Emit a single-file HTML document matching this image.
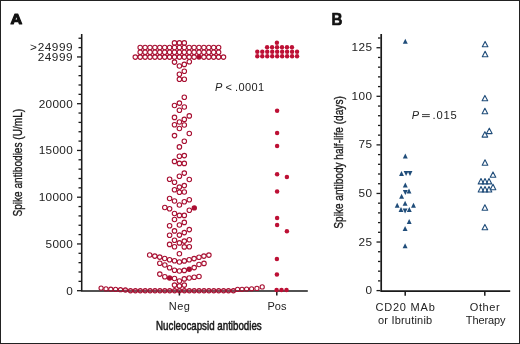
<!DOCTYPE html>
<html><head><meta charset="utf-8"><style>
html,body{margin:0;padding:0;background:#fff;}
#c{position:relative;width:518px;height:342px;border:1px solid #222;overflow:hidden;background:#fff;font-family:"Liberation Sans",sans-serif;color:#222;}
#c svg{position:absolute;left:-1px;top:-1px;will-change:transform;}
.t{position:absolute;white-space:nowrap;line-height:1;}
</style></head><body><div id="c">
<svg width="520" height="344" viewBox="0 0 520 344" font-family="'Liberation Sans', sans-serif">
<text transform="translate(10.6,24.45) scale(1.08,1)" font-size="15" font-weight="bold" fill="#111" stroke="#111" stroke-width="1.1" stroke-linejoin="round">A</text>
<text transform="translate(331.5,25.0) scale(0.92,1)" font-size="16.5" font-weight="bold" fill="#111" stroke="#111" stroke-width="0.7" stroke-linejoin="round">B</text>
<g font-size="11.8" fill="#222" text-anchor="end" letter-spacing="0.35">
<text x="73.2" y="51" letter-spacing="0.55">24999</text><text x="37" y="50.9" letter-spacing="0">&gt;</text>
<text x="73.2" y="60.5" letter-spacing="0.55">24999</text>
<text x="73.2" y="107.7">20000</text>
<text x="73.2" y="154.3">15000</text>
<text x="73.2" y="201">10000</text>
<text x="73.2" y="247.9">5000</text>
<text x="73.2" y="294.6">0</text>
<text x="372.3" y="51.2">125</text>
<text x="372.3" y="99.8">100</text>
<text x="372.3" y="148.4">75</text>
<text x="372.3" y="197">50</text>
<text x="372.3" y="245.6">25</text>
<text x="372.3" y="294.3">0</text>
</g>
<g font-size="11" fill="#222" text-anchor="middle">
<text x="179.5" y="310.2" letter-spacing="0.4">Neg</text>
<text x="277" y="310.4">Pos</text>
<text x="405.5" y="310.5" letter-spacing="0.8">CD20 MAb</text>
<text x="405.2" y="324.3" letter-spacing="0.2">or Ibrutinib</text>
<text x="485" y="310.5" letter-spacing="0.6">Other</text>
<text x="485.6" y="324.2" letter-spacing="-0.1">Therapy</text>
</g>
<text x="215" y="90.5" font-size="11" fill="#222"><tspan font-style="italic">P</tspan> &lt; <tspan letter-spacing="0.45">.0001</tspan></text>
<text x="411.8" y="118.8" font-size="11" fill="#222" font-style="italic">P</text><path d="M422,114.6H429.8M422,116.6H429.8" stroke="#333" stroke-width="0.95"/><text x="432.6" y="118.8" font-size="11.2" fill="#222" letter-spacing="0.75">.015</text>
<g font-size="13.2" fill="#1a1a1a" stroke="#1a1a1a" stroke-width="0.55">
<text transform="translate(208.9,329.5) scale(0.739,1)" text-anchor="middle">Nucleocapsid antibodies</text>
<text transform="translate(21.9,162.7) rotate(-90) scale(0.766,1)" text-anchor="middle" stroke-width="0.35">Spike antibodies (U/mL)</text>
<text transform="translate(342.6,162.45) rotate(-90) scale(0.766,1)" text-anchor="middle" stroke-width="0.35">Spike antibody half-life (days)</text>
</g>
<g stroke="#1a1a1a" stroke-width="1.7" fill="none">
<path d="M81.7,34V291H307.8" stroke-width="1.55"/>
<path d="M77.0,290.70H81" stroke-width="1.3"/>
<path d="M78.5,281.35H81" stroke-width="1.3"/>
<path d="M78.5,272.00H81" stroke-width="1.3"/>
<path d="M78.5,262.65H81" stroke-width="1.3"/>
<path d="M78.5,253.30H81" stroke-width="1.3"/>
<path d="M77.0,243.95H81" stroke-width="1.3"/>
<path d="M78.5,234.60H81" stroke-width="1.3"/>
<path d="M78.5,225.25H81" stroke-width="1.3"/>
<path d="M78.5,215.90H81" stroke-width="1.3"/>
<path d="M78.5,206.55H81" stroke-width="1.3"/>
<path d="M77.0,197.20H81" stroke-width="1.3"/>
<path d="M78.5,187.85H81" stroke-width="1.3"/>
<path d="M78.5,178.50H81" stroke-width="1.3"/>
<path d="M78.5,169.15H81" stroke-width="1.3"/>
<path d="M78.5,159.80H81" stroke-width="1.3"/>
<path d="M77.0,150.45H81" stroke-width="1.3"/>
<path d="M78.5,141.10H81" stroke-width="1.3"/>
<path d="M78.5,131.75H81" stroke-width="1.3"/>
<path d="M78.5,122.40H81" stroke-width="1.3"/>
<path d="M78.5,113.05H81" stroke-width="1.3"/>
<path d="M77.0,103.70H81" stroke-width="1.3"/>
<path d="M78.5,94.35H81" stroke-width="1.3"/>
<path d="M78.5,85.00H81" stroke-width="1.3"/>
<path d="M78.5,75.65H81" stroke-width="1.3"/>
<path d="M78.5,66.30H81" stroke-width="1.3"/>
<path d="M77.0,56.95H81" stroke-width="1.3"/>
<path d="M78.5,47.60H81" stroke-width="1.3"/>
<path d="M78.5,38.25H81" stroke-width="1.3"/>
<path d="M179.4,291V295.5M276.8,291V295.5" stroke-width="1.5"/>
<path d="M381.2,34V291.1H510.2"/>
<path d="M376.5,290.60H380.5" stroke-width="1.3"/>
<path d="M378.0,280.89H380.5" stroke-width="1.3"/>
<path d="M378.0,271.17H380.5" stroke-width="1.3"/>
<path d="M378.0,261.46H380.5" stroke-width="1.3"/>
<path d="M378.0,251.74H380.5" stroke-width="1.3"/>
<path d="M376.5,242.03H380.5" stroke-width="1.3"/>
<path d="M378.0,232.31H380.5" stroke-width="1.3"/>
<path d="M378.0,222.60H380.5" stroke-width="1.3"/>
<path d="M378.0,212.88H380.5" stroke-width="1.3"/>
<path d="M378.0,203.17H380.5" stroke-width="1.3"/>
<path d="M376.5,193.45H380.5" stroke-width="1.3"/>
<path d="M378.0,183.74H380.5" stroke-width="1.3"/>
<path d="M378.0,174.02H380.5" stroke-width="1.3"/>
<path d="M378.0,164.31H380.5" stroke-width="1.3"/>
<path d="M378.0,154.59H380.5" stroke-width="1.3"/>
<path d="M376.5,144.88H380.5" stroke-width="1.3"/>
<path d="M378.0,135.16H380.5" stroke-width="1.3"/>
<path d="M378.0,125.45H380.5" stroke-width="1.3"/>
<path d="M378.0,115.73H380.5" stroke-width="1.3"/>
<path d="M378.0,106.02H380.5" stroke-width="1.3"/>
<path d="M376.5,96.30H380.5" stroke-width="1.3"/>
<path d="M378.0,86.59H380.5" stroke-width="1.3"/>
<path d="M378.0,76.87H380.5" stroke-width="1.3"/>
<path d="M378.0,67.16H380.5" stroke-width="1.3"/>
<path d="M378.0,57.44H380.5" stroke-width="1.3"/>
<path d="M376.5,47.73H380.5" stroke-width="1.3"/>
<path d="M378.0,38.01H380.5" stroke-width="1.3"/>
<path d="M405.2,291V295.7M484.8,291V295.7" stroke-width="1.5"/>
</g>
<g fill="none" stroke="#a81032" stroke-width="1.1">
<circle cx="174.50" cy="42.90" r="2.25"/>
<circle cx="179.40" cy="42.90" r="2.25"/>
<circle cx="184.30" cy="42.90" r="2.25"/>
<circle cx="140.20" cy="47.50" r="2.25"/>
<circle cx="145.10" cy="47.50" r="2.25"/>
<circle cx="150.00" cy="47.50" r="2.25"/>
<circle cx="154.90" cy="47.50" r="2.25"/>
<circle cx="159.80" cy="47.50" r="2.25"/>
<circle cx="164.70" cy="47.50" r="2.25"/>
<circle cx="169.60" cy="47.50" r="2.25"/>
<circle cx="174.50" cy="47.50" r="2.25"/>
<circle cx="179.40" cy="47.50" r="2.25"/>
<circle cx="184.30" cy="47.50" r="2.25"/>
<circle cx="189.20" cy="47.50" r="2.25"/>
<circle cx="194.10" cy="47.50" r="2.25"/>
<circle cx="199.00" cy="47.50" r="2.25"/>
<circle cx="203.90" cy="47.50" r="2.25"/>
<circle cx="208.80" cy="47.50" r="2.25"/>
<circle cx="213.70" cy="47.50" r="2.25"/>
<circle cx="218.60" cy="47.50" r="2.25"/>
<circle cx="140.20" cy="52.20" r="2.25"/>
<circle cx="145.10" cy="52.20" r="2.25"/>
<circle cx="150.00" cy="52.20" r="2.25"/>
<circle cx="154.90" cy="52.20" r="2.25"/>
<circle cx="159.80" cy="52.20" r="2.25"/>
<circle cx="164.70" cy="52.20" r="2.25"/>
<circle cx="169.60" cy="52.20" r="2.25"/>
<circle cx="174.50" cy="52.20" r="2.25"/>
<circle cx="179.40" cy="52.20" r="2.25"/>
<circle cx="184.30" cy="52.20" r="2.25"/>
<circle cx="189.20" cy="52.20" r="2.25"/>
<circle cx="194.10" cy="52.20" r="2.25"/>
<circle cx="199.00" cy="52.20" r="2.25"/>
<circle cx="203.90" cy="52.20" r="2.25"/>
<circle cx="208.80" cy="52.20" r="2.25"/>
<circle cx="213.70" cy="52.20" r="2.25"/>
<circle cx="218.60" cy="52.20" r="2.25"/>
<circle cx="135.30" cy="57.10" r="2.25"/>
<circle cx="140.20" cy="57.10" r="2.25"/>
<circle cx="145.10" cy="57.10" r="2.25"/>
<circle cx="150.00" cy="57.10" r="2.25"/>
<circle cx="154.90" cy="57.10" r="2.25"/>
<circle cx="159.80" cy="57.10" r="2.25"/>
<circle cx="164.70" cy="57.10" r="2.25"/>
<circle cx="169.60" cy="57.10" r="2.25"/>
<circle cx="174.50" cy="57.10" r="2.25"/>
<circle cx="179.40" cy="57.10" r="2.25"/>
<circle cx="184.30" cy="57.10" r="2.25"/>
<circle cx="189.20" cy="57.10" r="2.25"/>
<circle cx="194.10" cy="57.10" r="2.25"/>
<circle cx="203.90" cy="57.10" r="2.25"/>
<circle cx="208.80" cy="57.10" r="2.25"/>
<circle cx="213.70" cy="57.10" r="2.25"/>
<circle cx="218.60" cy="57.10" r="2.25"/>
<circle cx="223.50" cy="57.10" r="2.25"/>
<circle cx="174.50" cy="62.10" r="2.25"/>
<circle cx="189.30" cy="61.70" r="2.25"/>
<circle cx="184.30" cy="64.40" r="2.25"/>
<circle cx="179.40" cy="66.00" r="2.25"/>
<circle cx="184.30" cy="71.30" r="2.25"/>
<circle cx="179.40" cy="74.20" r="2.25"/>
<circle cx="179.40" cy="79.20" r="2.25"/>
<circle cx="184.30" cy="79.20" r="2.25"/>
<circle cx="184.30" cy="97.30" r="2.25"/>
<circle cx="179.40" cy="103.10" r="2.25"/>
<circle cx="174.50" cy="105.50" r="2.25"/>
<circle cx="184.30" cy="107.00" r="2.25"/>
<circle cx="179.40" cy="110.30" r="2.25"/>
<circle cx="189.30" cy="115.90" r="2.25"/>
<circle cx="174.50" cy="117.40" r="2.25"/>
<circle cx="184.30" cy="119.40" r="2.25"/>
<circle cx="179.40" cy="122.00" r="2.25"/>
<circle cx="174.50" cy="124.70" r="2.25"/>
<circle cx="184.30" cy="125.00" r="2.25"/>
<circle cx="179.40" cy="128.50" r="2.25"/>
<circle cx="189.30" cy="133.50" r="2.25"/>
<circle cx="174.50" cy="135.60" r="2.25"/>
<circle cx="184.30" cy="141.30" r="2.25"/>
<circle cx="179.40" cy="146.90" r="2.25"/>
<circle cx="184.30" cy="155.60" r="2.25"/>
<circle cx="179.40" cy="156.20" r="2.25"/>
<circle cx="174.50" cy="161.40" r="2.25"/>
<circle cx="179.40" cy="163.40" r="2.25"/>
<circle cx="184.30" cy="163.40" r="2.25"/>
<circle cx="184.30" cy="173.10" r="2.25"/>
<circle cx="179.40" cy="176.30" r="2.25"/>
<circle cx="169.60" cy="179.20" r="2.25"/>
<circle cx="189.30" cy="179.50" r="2.25"/>
<circle cx="174.50" cy="182.20" r="2.25"/>
<circle cx="184.30" cy="185.60" r="2.25"/>
<circle cx="179.40" cy="187.10" r="2.25"/>
<circle cx="174.50" cy="189.80" r="2.25"/>
<circle cx="179.40" cy="192.30" r="2.25"/>
<circle cx="184.30" cy="192.00" r="2.25"/>
<circle cx="169.60" cy="198.50" r="2.25"/>
<circle cx="189.30" cy="199.70" r="2.25"/>
<circle cx="174.50" cy="201.00" r="2.25"/>
<circle cx="184.30" cy="201.70" r="2.25"/>
<circle cx="179.40" cy="205.00" r="2.25"/>
<circle cx="164.80" cy="207.50" r="2.25"/>
<circle cx="169.60" cy="208.70" r="2.25"/>
<circle cx="189.30" cy="210.20" r="2.25"/>
<circle cx="174.50" cy="213.50" r="2.25"/>
<circle cx="179.40" cy="215.40" r="2.25"/>
<circle cx="184.30" cy="215.40" r="2.25"/>
<circle cx="174.50" cy="219.50" r="2.25"/>
<circle cx="184.30" cy="222.40" r="2.25"/>
<circle cx="179.40" cy="225.00" r="2.25"/>
<circle cx="169.60" cy="225.70" r="2.25"/>
<circle cx="189.30" cy="229.60" r="2.25"/>
<circle cx="174.50" cy="230.90" r="2.25"/>
<circle cx="184.30" cy="232.60" r="2.25"/>
<circle cx="179.40" cy="235.10" r="2.25"/>
<circle cx="169.60" cy="235.30" r="2.25"/>
<circle cx="189.30" cy="239.70" r="2.25"/>
<circle cx="174.50" cy="240.20" r="2.25"/>
<circle cx="184.30" cy="241.10" r="2.25"/>
<circle cx="179.40" cy="242.90" r="2.25"/>
<circle cx="169.60" cy="244.40" r="2.25"/>
<circle cx="174.50" cy="246.70" r="2.25"/>
<circle cx="184.30" cy="246.90" r="2.25"/>
<circle cx="189.30" cy="246.70" r="2.25"/>
<circle cx="179.40" cy="253.70" r="2.25"/>
<circle cx="149.70" cy="255.00" r="2.25"/>
<circle cx="154.80" cy="256.10" r="2.25"/>
<circle cx="159.70" cy="257.10" r="2.25"/>
<circle cx="164.70" cy="258.50" r="2.25"/>
<circle cx="169.60" cy="259.70" r="2.25"/>
<circle cx="174.50" cy="260.80" r="2.25"/>
<circle cx="179.40" cy="262.00" r="2.25"/>
<circle cx="184.30" cy="260.90" r="2.25"/>
<circle cx="189.20" cy="259.80" r="2.25"/>
<circle cx="194.10" cy="258.60" r="2.25"/>
<circle cx="199.00" cy="257.20" r="2.25"/>
<circle cx="203.90" cy="256.10" r="2.25"/>
<circle cx="208.90" cy="255.10" r="2.25"/>
<circle cx="159.80" cy="263.30" r="2.25"/>
<circle cx="164.80" cy="265.00" r="2.25"/>
<circle cx="169.60" cy="267.80" r="2.25"/>
<circle cx="174.50" cy="270.30" r="2.25"/>
<circle cx="179.40" cy="271.00" r="2.25"/>
<circle cx="184.30" cy="270.40" r="2.25"/>
<circle cx="194.20" cy="267.60" r="2.25"/>
<circle cx="199.00" cy="264.50" r="2.25"/>
<circle cx="204.00" cy="263.40" r="2.25"/>
<circle cx="159.80" cy="274.10" r="2.25"/>
<circle cx="164.80" cy="276.70" r="2.25"/>
<circle cx="174.50" cy="278.50" r="2.25"/>
<circle cx="179.40" cy="281.00" r="2.25"/>
<circle cx="184.30" cy="278.90" r="2.25"/>
<circle cx="189.20" cy="278.00" r="2.25"/>
<circle cx="194.20" cy="277.20" r="2.25"/>
<circle cx="199.00" cy="276.50" r="2.25"/>
<circle cx="174.50" cy="285.10" r="2.25"/>
<circle cx="179.40" cy="285.90" r="2.25"/>
<circle cx="184.30" cy="285.10" r="2.25"/>
<g fill="#d04060" fill-opacity="0.35">
<circle cx="101.10" cy="288.10" r="2.1" fill="none"/>
<circle cx="106.00" cy="288.90" r="2.1" fill="none"/>
<circle cx="110.80" cy="289.20" r="2.1" fill="none"/>
<circle cx="115.60" cy="289.40" r="2.1" fill="none"/>
<circle cx="120.50" cy="289.70" r="2.1" fill="none"/>
<circle cx="125.40" cy="290.00" r="2.1"/>
<circle cx="130.50" cy="290.75" r="2.1"/>
<circle cx="135.40" cy="290.75" r="2.1"/>
<circle cx="140.30" cy="290.75" r="2.1"/>
<circle cx="145.20" cy="290.75" r="2.1"/>
<circle cx="150.10" cy="290.75" r="2.1"/>
<circle cx="155.00" cy="290.75" r="2.1"/>
<circle cx="159.90" cy="290.75" r="2.1"/>
<circle cx="164.80" cy="290.75" r="2.1"/>
<circle cx="169.70" cy="290.75" r="2.1"/>
<circle cx="174.60" cy="290.75" r="2.1"/>
<circle cx="179.50" cy="290.75" r="2.1"/>
<circle cx="184.40" cy="290.75" r="2.1"/>
<circle cx="189.30" cy="290.75" r="2.1"/>
<circle cx="194.20" cy="290.75" r="2.1"/>
<circle cx="199.10" cy="290.75" r="2.1"/>
<circle cx="204.00" cy="290.75" r="2.1"/>
<circle cx="208.90" cy="290.75" r="2.1"/>
<circle cx="213.80" cy="290.75" r="2.1"/>
<circle cx="218.70" cy="290.75" r="2.1"/>
<circle cx="223.60" cy="290.75" r="2.1"/>
<circle cx="228.50" cy="290.75" r="2.1"/>
<circle cx="233.40" cy="290.75" r="2.1"/>
<circle cx="237.60" cy="289.40" r="2.1" fill="none"/>
<circle cx="242.00" cy="289.30" r="2.1" fill="none"/>
<circle cx="246.60" cy="289.10" r="2.1" fill="none"/>
<circle cx="251.60" cy="288.80" r="2.1" fill="none"/>
<circle cx="256.90" cy="288.40" r="2.1" fill="none"/>
<circle cx="262.20" cy="286.90" r="2.1" fill="none"/>
</g>
</g>
<g fill="#bd1035" stroke="none">
<circle cx="199.00" cy="57.10" r="2.7" fill="#ab0f33"/>
<circle cx="194.30" cy="207.90" r="2.7" fill="#ab0f33"/>
<circle cx="189.20" cy="269.30" r="2.7" fill="#ab0f33"/>
<circle cx="169.60" cy="278.00" r="2.7" fill="#ab0f33"/>
<circle cx="276.90" cy="42.80" r="2.2"/>
<circle cx="267.10" cy="47.30" r="2.2"/>
<circle cx="272.07" cy="47.30" r="2.2"/>
<circle cx="277.04" cy="47.30" r="2.2"/>
<circle cx="282.01" cy="47.30" r="2.2"/>
<circle cx="286.98" cy="47.30" r="2.2"/>
<circle cx="291.95" cy="47.30" r="2.2"/>
<circle cx="257.30" cy="51.80" r="2.2"/>
<circle cx="262.27" cy="51.80" r="2.2"/>
<circle cx="267.24" cy="51.80" r="2.2"/>
<circle cx="272.21" cy="51.80" r="2.2"/>
<circle cx="277.18" cy="51.80" r="2.2"/>
<circle cx="282.15" cy="51.80" r="2.2"/>
<circle cx="287.12" cy="51.80" r="2.2"/>
<circle cx="292.09" cy="51.80" r="2.2"/>
<circle cx="297.06" cy="51.80" r="2.2"/>
<circle cx="257.30" cy="56.30" r="2.2"/>
<circle cx="262.27" cy="56.30" r="2.2"/>
<circle cx="267.24" cy="56.30" r="2.2"/>
<circle cx="272.21" cy="56.30" r="2.2"/>
<circle cx="277.18" cy="56.30" r="2.2"/>
<circle cx="282.15" cy="56.30" r="2.2"/>
<circle cx="287.12" cy="56.30" r="2.2"/>
<circle cx="292.09" cy="56.30" r="2.2"/>
<circle cx="297.06" cy="56.30" r="2.2"/>
<circle cx="277.10" cy="110.70" r="2.25"/>
<circle cx="277.10" cy="132.90" r="2.25"/>
<circle cx="277.10" cy="146.00" r="2.25"/>
<circle cx="277.10" cy="174.30" r="2.25"/>
<circle cx="286.90" cy="177.00" r="2.25"/>
<circle cx="277.10" cy="191.40" r="2.25"/>
<circle cx="277.10" cy="218.10" r="2.25"/>
<circle cx="277.10" cy="224.90" r="2.25"/>
<circle cx="286.90" cy="231.20" r="2.25"/>
<circle cx="276.90" cy="259.10" r="2.25"/>
<circle cx="276.90" cy="274.60" r="2.25"/>
<circle cx="276.60" cy="290.00" r="2.25"/>
<circle cx="281.50" cy="290.00" r="2.25"/>
<circle cx="286.50" cy="290.00" r="2.25"/>
</g>
<g fill="#204d7a" stroke="none">
<path d="M402.85,43.80L405.30,38.80L407.75,43.80Z"/>
<path d="M402.85,158.40L405.30,153.40L407.75,158.40Z"/>
<path d="M399.05,176.00L401.50,171.00L403.95,176.00Z"/>
<path d="M402.85,187.40L405.30,182.40L407.75,187.40Z"/>
<path d="M406.55,193.50L409.00,188.50L411.45,193.50Z"/>
<path d="M399.15,198.70L401.60,193.70L404.05,198.70Z"/>
<path d="M402.65,205.70L405.10,200.70L407.55,205.70Z"/>
<path d="M394.75,207.70L397.20,202.70L399.65,207.70Z"/>
<path d="M411.05,207.70L413.50,202.70L415.95,207.70Z"/>
<path d="M398.55,212.00L401.00,207.00L403.45,212.00Z"/>
<path d="M406.85,212.00L409.30,207.00L411.75,212.00Z"/>
<path d="M406.75,224.10L409.20,219.10L411.65,224.10Z"/>
<path d="M402.65,231.10L405.10,226.10L407.55,231.10Z"/>
<path d="M402.65,248.30L405.10,243.30L407.55,248.30Z"/>
<path d="M403.65,171.00L406.10,176.00L408.55,171.00Z"/>
<path d="M407.55,171.00L410.00,176.00L412.45,171.00Z"/>
<path d="M402.85,190.10L405.30,195.10L407.75,190.10Z"/>
<path d="M402.65,208.50L405.10,213.50L407.55,208.50Z"/>
</g>
<g fill="none" stroke="#204d7a" stroke-width="1.12" stroke-linejoin="round">
<path d="M482.30,46.80L485.10,41.40L487.90,46.80Z"/>
<path d="M482.30,56.70L485.10,51.30L487.90,56.70Z"/>
<path d="M482.10,100.80L484.90,95.40L487.70,100.80Z"/>
<path d="M482.10,113.70L484.90,108.30L487.70,113.70Z"/>
<path d="M486.50,133.60L489.30,128.20L492.10,133.60Z"/>
<path d="M482.10,137.10L484.90,131.70L487.70,137.10Z"/>
<path d="M482.20,165.20L485.00,159.80L487.80,165.20Z"/>
<path d="M490.20,177.30L493.00,171.90L495.80,177.30Z"/>
<path d="M478.20,183.90L481.00,178.50L483.80,183.90Z"/>
<path d="M482.20,183.90L485.00,178.50L487.80,183.90Z"/>
<path d="M486.20,183.90L489.00,178.50L491.80,183.90Z"/>
<path d="M490.20,189.70L493.00,184.30L495.80,189.70Z"/>
<path d="M478.20,192.00L481.00,186.60L483.80,192.00Z"/>
<path d="M482.20,192.00L485.00,186.60L487.80,192.00Z"/>
<path d="M486.20,192.00L489.00,186.60L491.80,192.00Z"/>
<path d="M482.10,210.20L484.90,204.80L487.70,210.20Z"/>
<path d="M482.10,229.80L484.90,224.40L487.70,229.80Z"/>
</g>
</svg>
</div></body></html>
